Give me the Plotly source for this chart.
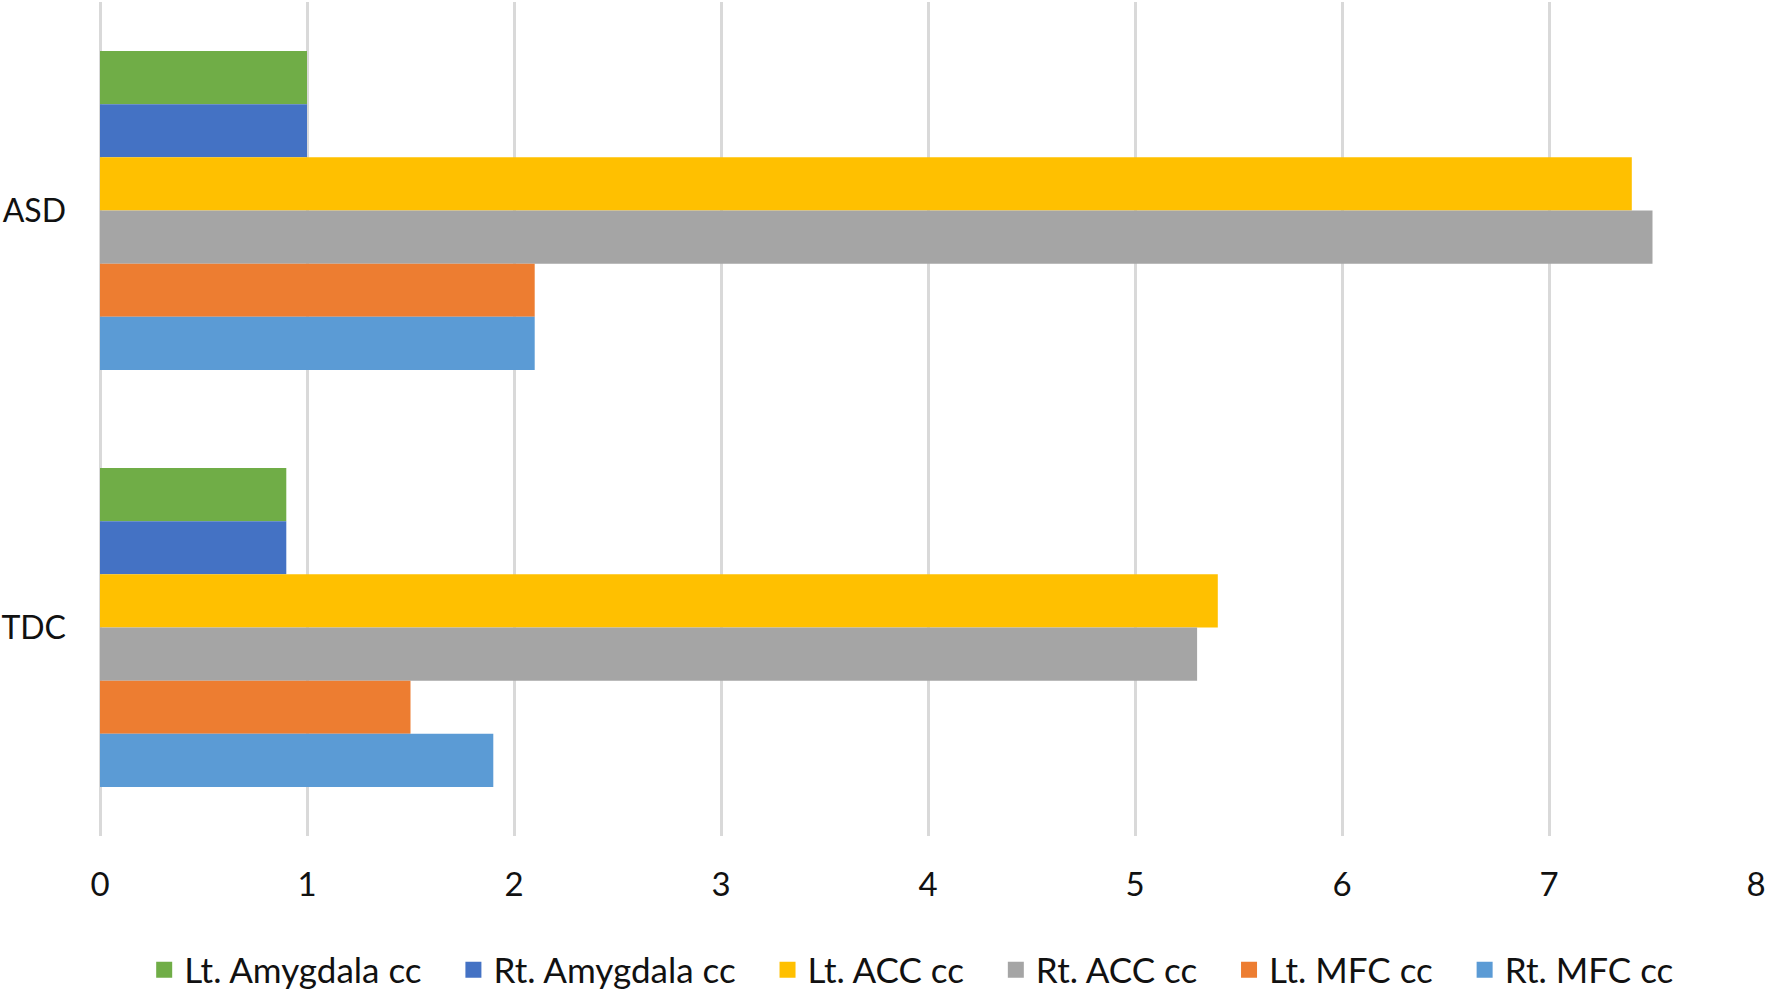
import plotly.graph_objects as go

categories = ["ASD", "TDC"]
series_names = ["Lt. Amygdala cc", "Rt. Amygdala cc", "Lt. ACC cc", "Rt. ACC cc", "Lt. MFC cc", "Rt. MFC cc"]
lt_amygdala = [1.0, 0.9]
rt_amygdala = [1.0, 0.9]
lt_acc = [7.4, 5.4]
rt_acc = [7.5, 5.3]
lt_mfc = [2.1, 1.5]
rt_mfc = [2.1, 1.9]
colors = ["#70AD47", "#4472C4", "#FFC000", "#A5A5A5", "#ED7D31", "#5B9BD5"]
x_ticks = [0, 1, 2, 3, 4, 5, 6, 7, 8]

values = [lt_amygdala, rt_amygdala, lt_acc, rt_acc, lt_mfc, rt_mfc]

fig = go.Figure()
for name, vals, col in zip(series_names, values, colors):
    fig.add_trace(go.Bar(
        y=categories, x=vals, name=name, orientation="h",
        marker=dict(color=col, line=dict(width=0)),
        showlegend=False, legendgroup=name,
    ))
# legend entries with larger square swatches
pad = "\u00a0" * 3
for name, col in zip(series_names, colors):
    fig.add_trace(go.Scatter(
        x=[None], y=[None], mode="markers", name=name + pad, legendgroup=name,
        marker=dict(symbol="square", size=20, color=col),
        showlegend=True, hoverinfo="skip",
    ))

font_family = "Lato, 'Open Sans', sans-serif"
fig.update_layout(
    width=1771, height=990,
    barmode="group", bargap=0.235, bargroupgap=0,
    paper_bgcolor="white", plot_bgcolor="white",
    margin=dict(l=100, r=15, t=2, b=154, autoexpand=False),
    font=dict(family=font_family, size=33, color="#111111"),
    showlegend=True,
    legend=dict(
        orientation="h", x=0.498, xanchor="center",
        yref="paper", y=-0.1606, yanchor="middle",
        font=dict(size=35, color="#111111"),
        traceorder="normal", itemwidth=30, itemsizing="trace",
        borderwidth=0,
    ),
    xaxis=dict(
        range=[0, 8], tickvals=x_ticks, showgrid=True, gridcolor="#D9D9D9", gridwidth=2.5,
        zeroline=True, zerolinecolor="#D9D9D9", zerolinewidth=2.5,
        showline=False, ticks="", ticklabelstandoff=26, automargin=False,
        tickfont=dict(size=33),
    ),
    yaxis=dict(
        autorange="reversed", showgrid=False, zeroline=False, showline=False,
        ticks="", ticklabelstandoff=33, tickfont=dict(size=32), automargin=False,
    ),
)

fig.write_html(
    "out.html",
    config={"displayModeBar": False},
    post_script="document.body.style.margin='0';document.body.style.overflow='hidden';",
)
